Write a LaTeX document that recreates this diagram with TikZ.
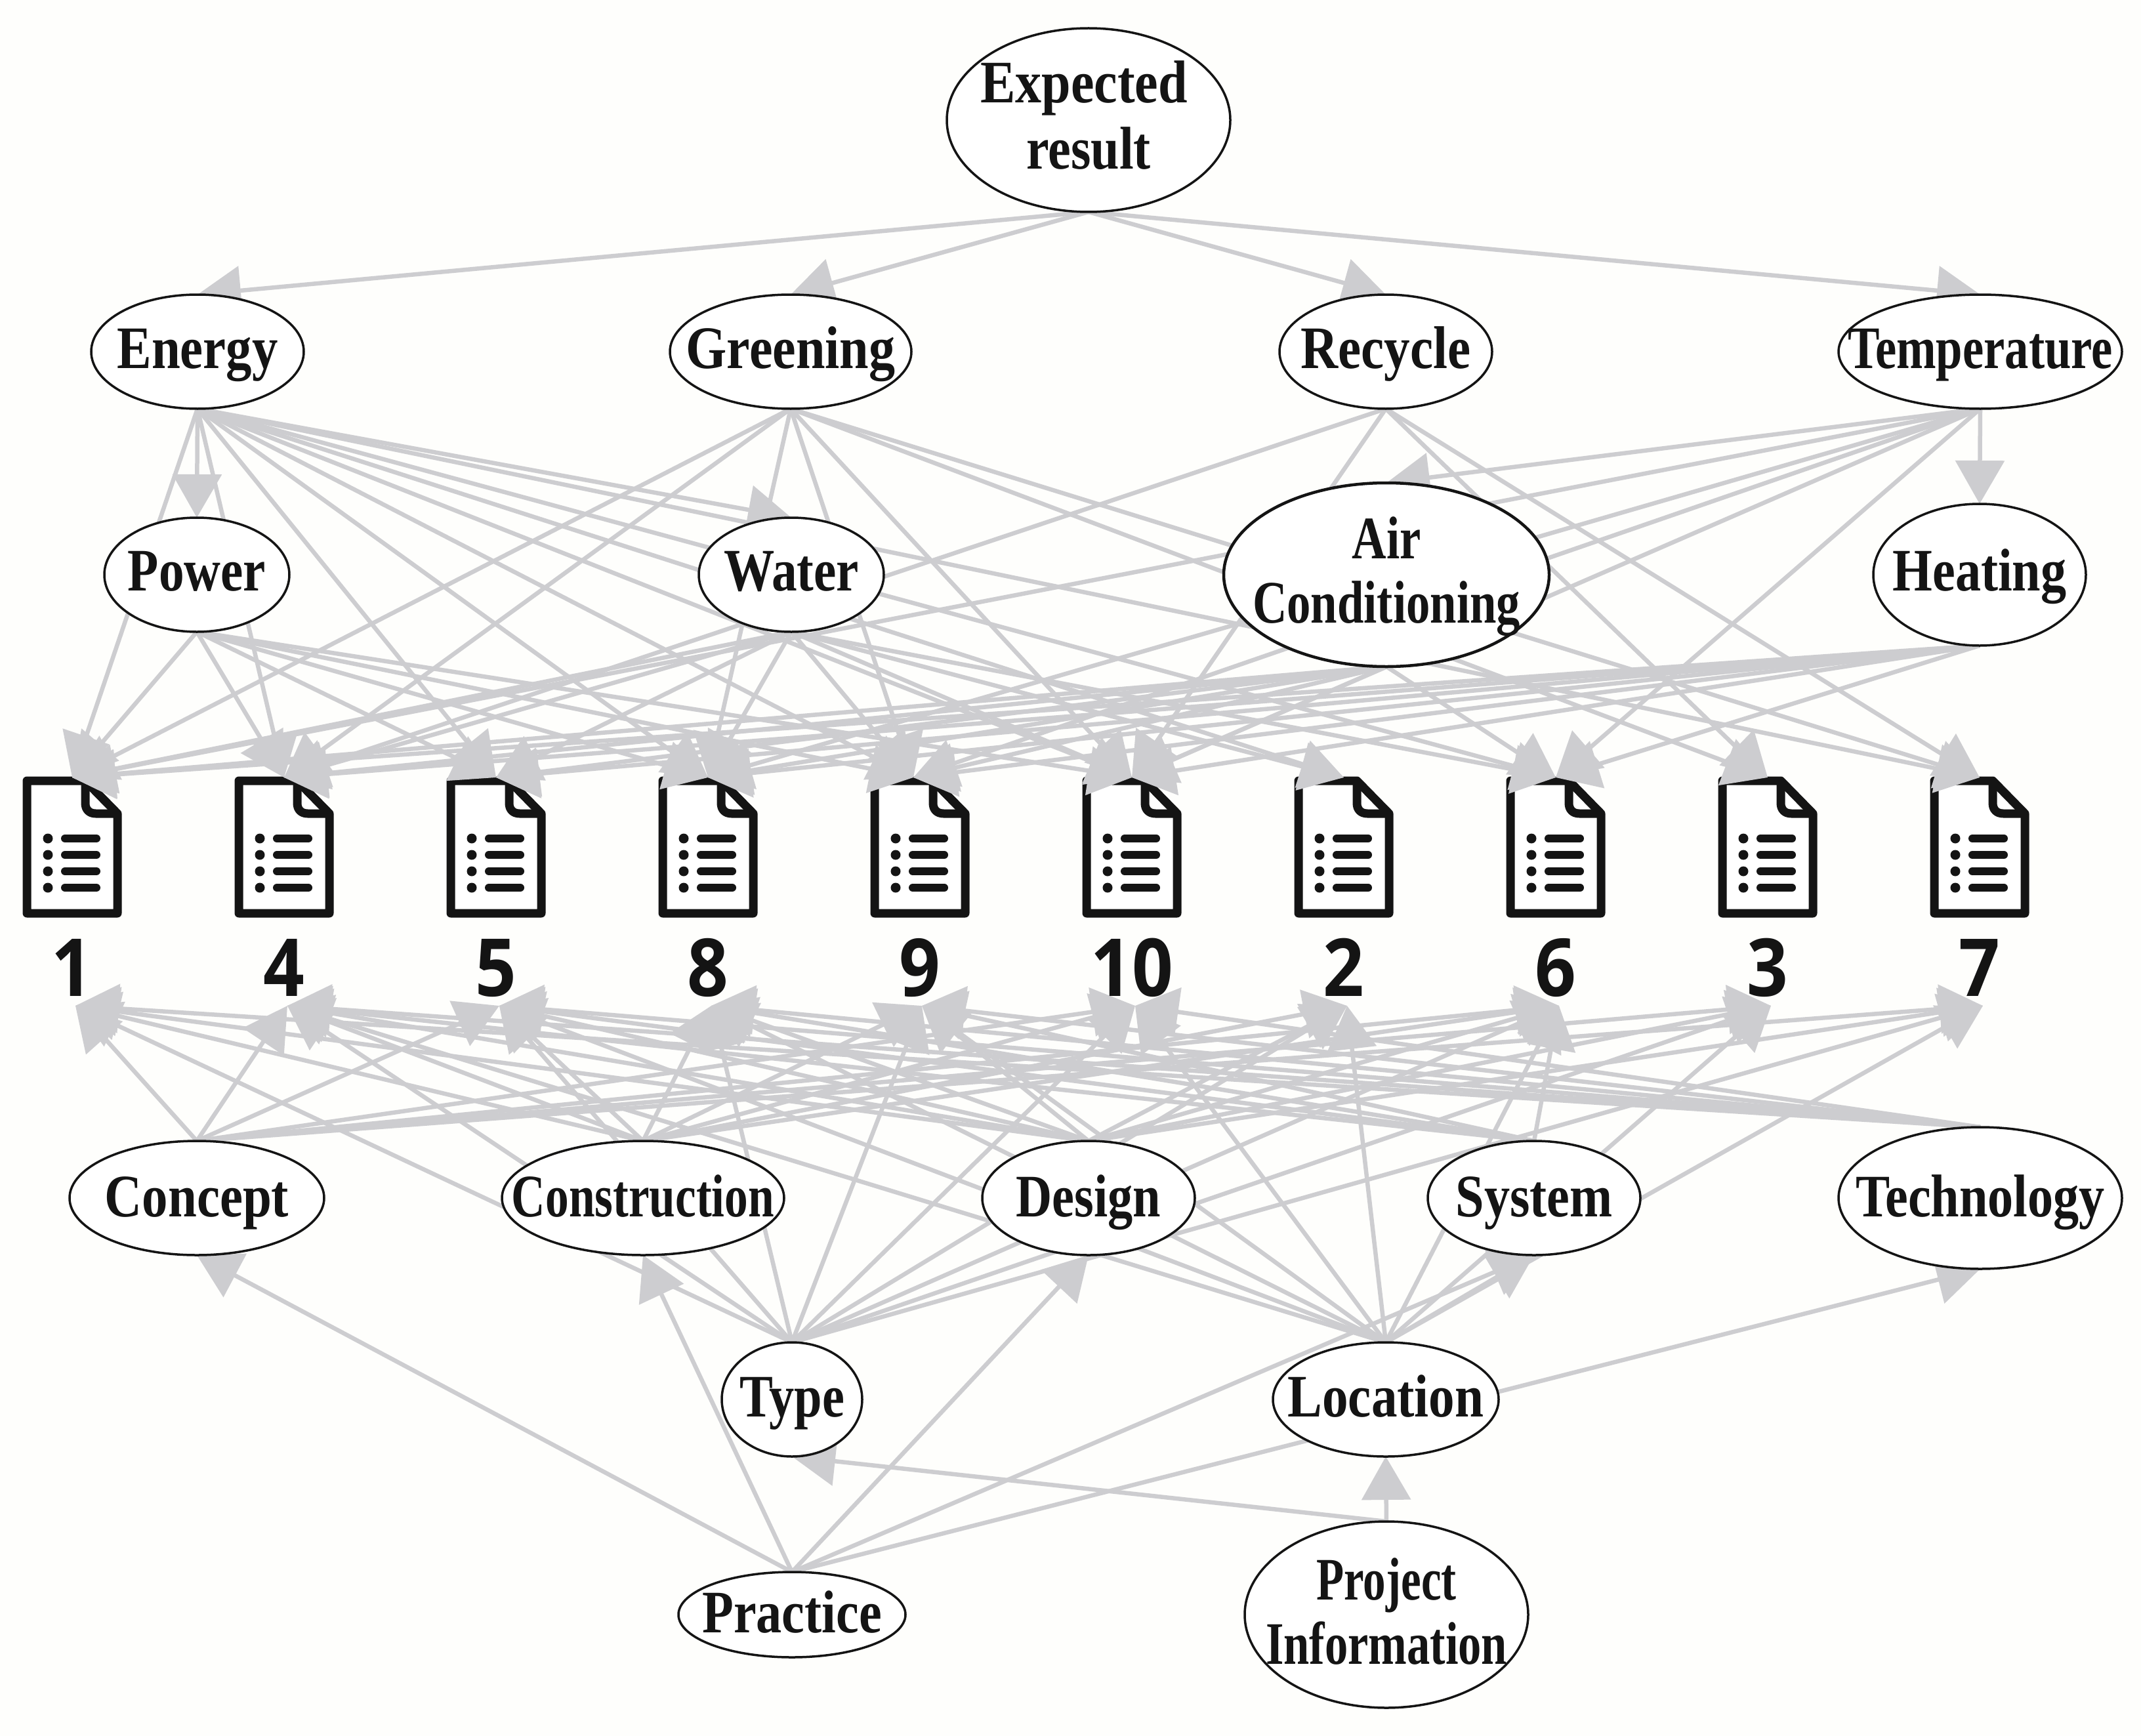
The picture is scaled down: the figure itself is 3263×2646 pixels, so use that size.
\documentclass[tikz,border=0pt]{standalone}
\usepackage{fontspec}
\usepackage{graphicx}
\setmainfont{Liberation Serif}
\newfontfamily\numfont{Open Sans}
\usetikzlibrary{shapes.geometric,arrows.meta,backgrounds}
\definecolor{edgegray}{HTML}{CDCDD0}
\definecolor{inkblack}{HTML}{141414}
\definecolor{paper}{HTML}{FEFEFC}
\newcommand\nt[3]{\makebox[0pt][c]{\raisebox{-#2pt}[0pt][0pt]{\scalebox{#1}[1]{#3}}}}
\tikzset{
  term/.style={ellipse,draw=inkblack,line width=3.5pt,fill=white,inner sep=0pt,outer sep=0pt,
    text=inkblack,font=\bfseries\fontsize{92}{100}\selectfont},
  sz/.style n args={2}{minimum width=#1pt,minimum height=#2pt},
  numlab/.style={inner sep=0pt,text=inkblack,font=\numfont\bfseries\fontsize{122}{130}\selectfont},
  docspot/.style={inner sep=0pt,outer sep=0pt,minimum width=0pt,minimum height=348pt},
  edge/.style={draw=edgegray,line width=6.5pt,-{Triangle[length=66pt,width=74pt,fill=edgegray]}},
  docline/.style={draw=inkblack,line width=13pt,line join=round,fill=white},
  docbar/.style={draw=inkblack,line width=12pt,line cap=round},
}
\begin{document}
\begin{tikzpicture}[x=1pt,y=-1pt]
\useasboundingbox (0,0) rectangle (3263,2646);
% ---- terms
\node[term,sz={432}{280}] (expected) at (1659,183) {\kern-7pt\nt{.87}{-26}{Expected}\kern7pt\nt{.85}{75}{result}};
\node[term,sz={324}{174}] (energy) at (301,536) {\nt{.856}{25}{Energy}};
\node[term,sz={368}{174}] (greening) at (1205,536) {\nt{.87}{25}{Greening}};
\node[term,sz={324}{174}] (recycle) at (2112,536) {\nt{.86}{25}{Recycle}};
\node[term,sz={432}{174}] (temperature) at (3018,536) {\nt{.79}{25}{Temperature}};
\node[term,sz={282}{174}] (power) at (300,876) {\nt{.84}{24}{Power}};
\node[term,sz={282}{174}] (water) at (1206,876) {\nt{.84}{24}{Water}};
\node[term,sz={496}{280},line width=4.5pt] (air) at (2113,876) {\nt{.79}{-25}{Air}\nt{.79}{73}{Conditioning}};
\node[term,sz={324}{216}] (heating) at (3017,876) {\nt{.85}{24}{Heating}};
\node[term,sz={388}{174}] (concept) at (300,1826) {\nt{.857}{28}{Concept}};
\node[term,sz={430}{174}] (construction) at (980,1826) {\nt{.775}{28}{Construction}};
\node[term,sz={324}{174}] (design) at (1659,1826) {\nt{.83}{28}{Design}};
\node[term,sz={324}{174}] (system) at (2338,1826) {\nt{.85}{28}{System}};
\node[term,sz={432}{216}] (technology) at (3018,1826) {\nt{.85}{28}{Technology}};
\node[term,sz={214}{174}] (type) at (1207,2133) {\nt{.83}{26}{Type}};
\node[term,sz={344}{174}] (location) at (2112,2133) {\nt{.86}{26}{Location}};
\node[term,sz={346}{130}] (practice) at (1207,2461) {\nt{.85}{27}{Practice}};
\node[term,sz={432}{284}] (project) at (2113,2461) {\nt{.75}{-23}{Project}\nt{.766}{75}{Information}};
% ---- document numbers and the spots the connectors reach
\foreach \n/\x in {1/110,4/433,5/756,8/1079,10/1725,2/2048,6/2371,3/2694,7/3017}{
  \node[numlab] (n\n) at (\x,1475) {\nt{.9}{43}{\n}};
  \node[docspot] (d\n) at (\x,1359) {};
}
\node[numlab] (n9) at (1402,1475) {\nt{.9}{43}{9}};
\node[docspot] (d9) at (1392,1359) {};
\begin{pgfonlayer}{background}
\fill[paper] (0,0) rectangle (3263,2646);
% ---- document icons
\foreach \x in {110,433,756,1079,1402,1725,2048,2371,2694,3017}{
  \begin{scope}[shift={(\x,0)}]
    \path[docline] (-69,1190) -- (20,1190) -- (69,1240) -- (69,1392) -- (-69,1392) -- cycle;
    \path[docline,fill=none] (20,1190) -- (20,1224) .. controls (20,1234) and (26,1240) .. (36,1240) -- (69,1240);
    \foreach \y in {1278,1303,1328,1353}{
      \fill[inkblack] (-37,\y) circle[radius=7.5];
      \draw[docbar] (-11,\y) -- (37,\y);
    }
  \end{scope}
}
% ---- connectors
\foreach \t in {energy,greening,recycle,temperature} \draw[edge] (expected.south) -- (\t.north);
\draw[edge] (energy.south) -- (power.north);
\draw[edge] (energy.south) -- (water.north);
\foreach \t in {1,4,5,8,9,10,2,6,7} \draw[edge] (energy.south) -- (d\t.north);
\foreach \t in {1,4,8,9,10,3,7} \draw[edge] (greening.south) -- (d\t.north);
\foreach \t in {4,10,3,7} \draw[edge] (recycle.south) -- (d\t.north);
\draw[edge] (temperature.south) -- (air.north);
\draw[edge] (temperature.south) -- (heating.north);
\foreach \t in {1,8,9,10,6} \draw[edge] (temperature.south) -- (d\t.north);
\foreach \t in {1,4,5,8,9,10} \draw[edge] (power.south) -- (d\t.north);
\foreach \t in {1,4,5,8,9,10,2,6} \draw[edge] (water.south) -- (d\t.north);
\foreach \t in {1,4,5,8,9,10,6} \draw[edge] (air.south) -- (d\t.north);
\foreach \t in {1,4,5,8,9,10,6} \draw[edge] (heating.south) -- (d\t.north);
\foreach \t in {1,4,5,10,6,3,7} \draw[edge] (concept.north) -- ([xshift=5pt]d\t.south);
\foreach \t in {1,4,5,8,10,2,6} \draw[edge] (construction.north) -- ([xshift=5pt]d\t.south);
\foreach \t in {1,4,5,8,2,6,3,7} \draw[edge] (design.north) -- ([xshift=5pt]d\t.south);
\foreach \t in {4,5,8,6} \draw[edge] (system.north) -- ([xshift=5pt]d\t.south);
\foreach \t in {1,4,5,8,10} \draw[edge] (technology.north) -- ([xshift=5pt]d\t.south);
\foreach \t in {1,4,5,8,10,2,6,3,7} \draw[edge] (type.north) -- ([xshift=5pt]d\t.south);
\foreach \t in {4,5,8,10,2,6,3,7} \draw[edge] (location.north) -- ([xshift=5pt]d\t.south);
\foreach \s in {construction,design,system,technology,type,location} \draw[edge] (\s.north) -- ([xshift=13pt]d9.south);
\draw[edge] (location.north) -- (system.south);
\foreach \t in {concept,construction,design,system,technology} \draw[edge] (practice.north) -- (\t.south);
\draw[edge] (project.north) -- (location.south);
\draw[edge] (project.north) -- (type.south);
\end{pgfonlayer}
\end{tikzpicture}
\end{document}
